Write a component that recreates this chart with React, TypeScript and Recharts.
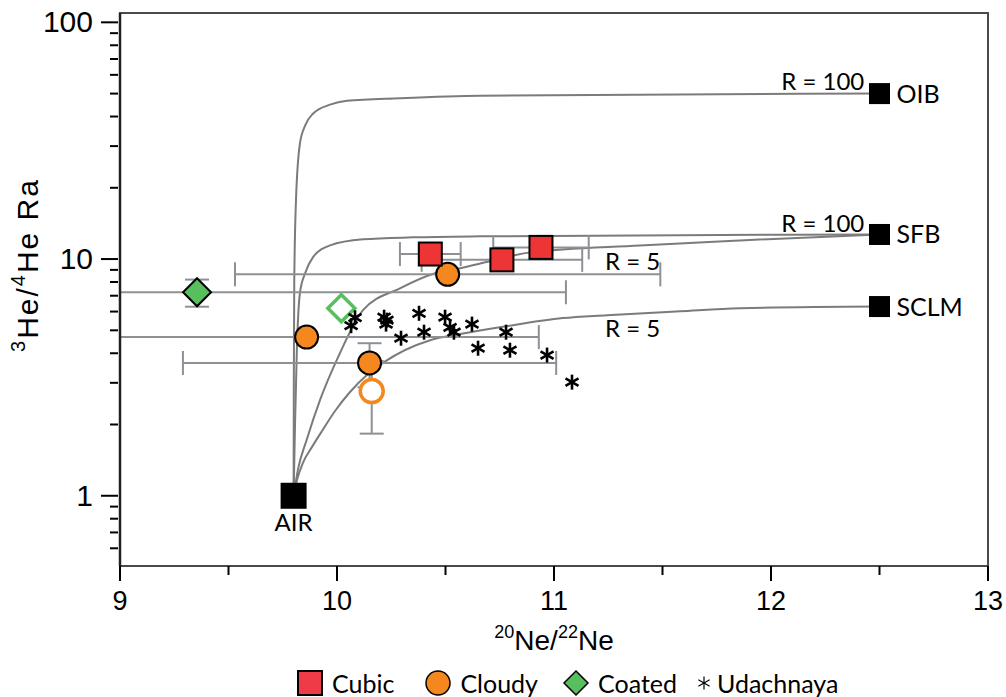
import React from 'react';
import { ComposedChart, XAxis, YAxis, Scatter, Line, ErrorBar, ReferenceArea } from 'recharts';

// ---------- axes ----------
const xDomain = [9, 13];
const yDomain = [0.505, 109.5];
const xTicks = [9, 9.5, 10, 10.5, 11, 11.5, 12, 12.5, 13];
const xMajorTicks = [9, 10, 11, 12, 13];
const xTickLabels = ['9', '10', '11', '12', '13'];
const yTicks = [0.6, 0.7, 0.8, 0.9, 1, 2, 3, 4, 5, 6, 7, 8, 9, 10, 20, 30, 40, 50, 60, 70, 80, 90, 100];
const yMajorTicks = [1, 10, 100];
const yTickLabels = ['1', '10', '100'];

// ---------- end-members ----------
const endmemberNames = ['AIR', 'OIB', 'SFB', 'SCLM'];
const endmemberNe = [9.8, 12.5, 12.5, 12.5];
const endmemberHe = [1, 50, 12.7, 6.3];

// ---------- mixing curves ----------
const oibCurveNe = [9.8, 9.801, 9.803, 9.811, 9.829, 9.853, 9.889, 9.968, 10.046, 10.29, 10.659, 12.5];
const oibCurveHe = [1, 3, 8, 17.7, 30.7, 36.6, 41.1, 44.9, 46.6, 47.8, 49.0, 50];
const sfb100CurveNe = [9.8, 9.807, 9.815, 9.829, 9.853, 9.889, 9.968, 10.12, 10.35, 10.659, 12.5];
const sfb100CurveHe = [1, 2.09, 4.12, 7.17, 8.71, 10.17, 11.42, 12.11, 12.35, 12.47, 12.7];
const sfb5CurveNe = [9.8, 9.82, 9.86, 9.922, 10.005, 10.12, 10.29, 10.452, 10.567, 10.705, 10.889, 11.396, 11.857, 12.5];
const sfb5CurveHe = [1, 1.29, 1.72, 2.54, 3.85, 6.08, 7.52, 8.71, 9.14, 9.78, 10.67, 11.42, 11.99, 12.7];
const sclmCurveNe = [9.8, 9.816, 9.843, 9.885, 9.931, 9.991, 10.06, 10.143, 10.217, 10.429, 10.567, 10.779, 11.041, 11.244, 11.581, 11.857, 12.5];
const sclmCurveHe = [1, 1.168, 1.377, 1.609, 1.879, 2.281, 2.744, 3.267, 3.67, 4.54, 4.82, 5.2, 5.63, 5.79, 6.02, 6.2, 6.3];

// curve labels
const curveLabelText = ['R = 100', 'R = 100', 'R = 5', 'R = 5'];
const curveLabelNe = [12.43, 12.43, 11.235, 11.235];
const curveLabelHe = [51.9, 13.0, 8.96, 4.68];
const curveLabelAnchor = ['end', 'end', 'start', 'start'];

// ---------- samples ----------
const cubicNe = [10.43, 10.76, 10.94];
const cubicHe = [10.5, 9.92, 11.2];
const cubicNeErr = [0.14, 0.37, 0.22];

const cloudyNe = [10.51, 9.86, 10.15];
const cloudyHe = [8.62, 4.68, 3.64];
const cloudyNeErr = [0.98, 1.07, 0.86];
const cloudyHeErrIdx = [2];
const cloudyHeErr = [0.77];

const cloudyOpenNe = [10.16];
const cloudyOpenHe = [2.77];
const cloudyOpenHeErr = [0.94];

const coatedNe = [9.355];
const coatedHe = [7.24];
const coatedNeErr = [1.7];
const coatedHeErr = [0.95];

const coatedOpenNe = [10.02];
const coatedOpenHe = [6.2];

const udachnayaNe = [10.083, 10.065, 10.217, 10.23, 10.226, 10.295, 10.378, 10.401, 10.498, 10.521, 10.539, 10.622, 10.65, 10.779, 10.797, 10.968, 11.083];
const udachnayaHe = [5.65, 5.23, 5.68, 5.52, 5.31, 4.63, 5.9, 4.91, 5.68, 5.15, 4.91, 5.31, 4.2, 4.91, 4.12, 3.93, 3.02];

const legendNames = ['Cubic', 'Cloudy', 'Coated', 'Udachnaya'];

// ---------- styling ----------
const RED = '#ee3535';
const ORANGE = '#f5871f';
const GREEN = '#58bf5e';
const CURVE = '#7b7b7b';
const ERR = '#8d9196';
const FONT_AX = '"Liberation Sans", Arial, Helvetica, sans-serif';
const FONT_TX = 'Lato, "Open Sans", sans-serif';

const pts = (xs: number[], ys: number[]) => xs.map((x, i) => ({ x, y: ys[i] }));
// x error bars are cut at the plot's left edge, as in the figure
const xErr = (x: number, e: number) => [Math.min(e, x - xDomain[0]), e];

const endData = endmemberNe.map((x, i) => ({ x, y: endmemberHe[i], name: endmemberNames[i] }));
const labelData = curveLabelNe.map((x, i) => ({ x, y: curveLabelHe[i], text: curveLabelText[i], anchor: curveLabelAnchor[i] }));
const cubicData = cubicNe.map((x, i) => ({ x, y: cubicHe[i], ex: xErr(x, cubicNeErr[i]) }));
const cloudyData = cloudyNe.map((x, i) => ({ x, y: cloudyHe[i], ex: xErr(x, cloudyNeErr[i]) }));
const cloudyYErrData = cloudyHeErrIdx.map((k, i) => ({ x: cloudyNe[k], y: cloudyHe[k], ey: cloudyHeErr[i] }));
const cloudyOpenData = cloudyOpenNe.map((x, i) => ({ x, y: cloudyOpenHe[i], ey: cloudyOpenHeErr[i] }));
const coatedData = coatedNe.map((x, i) => ({ x, y: coatedHe[i], ex: xErr(x, coatedNeErr[i]), ey: coatedHeErr[i] }));
const coatedOpenData = pts(coatedOpenNe, coatedOpenHe);
const udachnayaData = pts(udachnayaNe, udachnayaHe);

// ---------- shapes ----------
const Empty = () => <g />;

const SquareShape = (p: any) => (
  <rect x={p.cx - 11.5} y={p.cy - 11.5} width={23} height={23} fill={RED} stroke="#000" strokeWidth={2} />
);
const CircleShape = (p: any) => (
  <circle cx={p.cx} cy={p.cy} r={11.5} fill={ORANGE} stroke="#000" strokeWidth={2} />
);
const OpenCircleShape = (p: any) => (
  <circle cx={p.cx} cy={p.cy} r={11.5} fill="#fff" stroke={ORANGE} strokeWidth={3.5} />
);
const diamondPts = (cx: number, cy: number, r: number) => `${cx},${cy - r} ${cx + r},${cy} ${cx},${cy + r} ${cx - r},${cy}`;
const DiamondShape = (p: any) => (
  <polygon points={diamondPts(p.cx, p.cy, 14)} fill={GREEN} stroke="#000" strokeWidth={2} />
);
const OpenDiamondShape = (p: any) => (
  <polygon points={diamondPts(p.cx, p.cy, 13.5)} fill="#fff" stroke={GREEN} strokeWidth={3.5} />
);
const Asterisk = ({ cx, cy, r = 7.5, sw = 2.6 }: any) => (
  <g stroke="#000" strokeWidth={sw}>
    <line x1={cx} y1={cy - r} x2={cx} y2={cy + r} />
    <line x1={cx - r * 0.866} y1={cy - r * 0.5} x2={cx + r * 0.866} y2={cy + r * 0.5} />
    <line x1={cx - r * 0.866} y1={cy + r * 0.5} x2={cx + r * 0.866} y2={cy - r * 0.5} />
  </g>
);
const AsteriskShape = (p: any) => <Asterisk cx={p.cx} cy={p.cy} />;

const EndShape = (p: any) => {
  const { cx, cy, payload } = p;
  const isAir = payload.name === 'AIR';
  const s = isAir ? 26 : 21;
  return (
    <g>
      <rect x={cx - s / 2} y={cy - s / 2} width={s} height={s} fill="#000" />
      {isAir ? (
        <text x={cx} y={cy + 35} textAnchor="middle" fontFamily={FONT_TX} fontSize={24} fill="#000">{payload.name}</text>
      ) : (
        <text x={cx + 17} y={cy + 9} textAnchor="start" fontFamily={FONT_TX} fontSize={25} fill="#000">{payload.name}</text>
      )}
    </g>
  );
};

const CurveLabelShape = (p: any) => (
  <text x={p.cx} y={p.cy} textAnchor={p.payload.anchor} fontFamily={FONT_TX} fontSize={24} fill="#000">
    {p.payload.text}
  </text>
);

// ---------- ticks ----------
const XTick = (props: any) => {
  const { x, y, payload } = props;
  const v = payload.value;
  const k = xMajorTicks.indexOf(v);
  const major = k >= 0;
  return (
    <g>
      <line x1={x} x2={x} y1={y} y2={y + (major ? 15 : 9)} stroke="#000" strokeWidth={2} />
      {major && (
        <text x={x} y={y + 44} textAnchor="middle" fontFamily={FONT_AX} fontSize={27} fill="#000">{xTickLabels[k]}</text>
      )}
    </g>
  );
};

const YTick = (props: any) => {
  const { x, y, payload } = props;
  const v = payload.value;
  const k = yMajorTicks.indexOf(v);
  const major = k >= 0;
  return (
    <g>
      <line x1={x - (major ? 19 : 10)} x2={x - 2} y1={y} y2={y} stroke="#000" strokeWidth={2} />
      {major && (
        <text x={x - 27} y={y + 10} textAnchor="end" fontFamily={FONT_AX} fontSize={30} fill="#000">{yTickLabels[k]}</text>
      )}
    </g>
  );
};

const XLabel = (props: any) => {
  const vb = props.viewBox || {};
  const cx = vb.x + vb.width / 2;
  const cy = vb.y + 84;
  return (
    <text x={cx} y={cy} textAnchor="middle" fontFamily={FONT_AX} fontSize={28} fill="#000">
      <tspan fontSize={18} dy={-12}>20</tspan>
      <tspan dy={12}>Ne/</tspan>
      <tspan fontSize={18} dy={-12}>22</tspan>
      <tspan dy={12}>Ne</tspan>
    </text>
  );
};

const YLabel = (props: any) => {
  const vb = props.viewBox || {};
  const cx = vb.x + 38;
  const cy = vb.y + 252;
  return (
    <text x={cx} y={cy} transform={`rotate(-90 ${cx} ${cy})`} textAnchor="middle" fontFamily={FONT_AX} fontSize={30} letterSpacing={2} fill="#000">
      <tspan fontSize={20} dy={-13}>3</tspan>
      <tspan dy={13}>He/</tspan>
      <tspan fontSize={20} dy={-13}>4</tspan>
      <tspan dy={13}>He Ra</tspan>
    </text>
  );
};

const LegendIcon = ({ i }: { i: number }) => {
  if (i === 0) return <svg width={28} height={28}><rect x={2} y={2} width={24} height={24} fill="#ef3b47" stroke="#000" strokeWidth={2} /></svg>;
  if (i === 1) return <svg width={28} height={28}><circle cx={14} cy={14} r={12} fill={ORANGE} stroke="#000" strokeWidth={1.5} /></svg>;
  if (i === 2) return <svg width={28} height={28}><polygon points={diamondPts(14, 14, 12)} fill={GREEN} stroke="#000" strokeWidth={1.5} /></svg>;
  return <svg width={18} height={28}><Asterisk cx={9} cy={14} r={6.5} sw={1.2} /></svg>;
};

export default function App() {
  const lineProps = { type: 'monotone' as const, dataKey: 'y', stroke: CURVE, strokeWidth: 2, dot: false, activeDot: false, isAnimationActive: false, legendType: 'none' as const };
  return (
    <div style={{ position: 'absolute', left: 0, top: 0, width: 1006, height: 697, background: '#fff' }}>
      <ComposedChart width={1006} height={697} margin={{ top: 13, right: 18, bottom: 0, left: 0 }}>
        <XAxis
          type="number"
          dataKey="x"
          domain={xDomain}
          ticks={xTicks}
          interval={0}
          allowDataOverflow
          height={131}
          tickSize={0}
          tickMargin={0}
          tickLine={false}
          tick={<XTick />}
          axisLine={{ stroke: '#4a4a4a', strokeWidth: 2 }}
          label={{ content: <XLabel /> }}
        />
        <YAxis
          type="number"
          dataKey="y"
          scale="log"
          domain={yDomain}
          ticks={yTicks}
          interval={0}
          allowDataOverflow
          width={120}
          tickSize={0}
          tickMargin={0}
          tickLine={false}
          tick={<YTick />}
          axisLine={{ stroke: '#222', strokeWidth: 2.5 }}
          label={{ content: <YLabel /> }}
        />
        <ReferenceArea x1={xDomain[0]} x2={xDomain[1]} y1={yDomain[0]} y2={yDomain[1]} fill="none" stroke="#4a4a4a" strokeWidth={2} ifOverflow="visible" />

        <Line {...lineProps} data={pts(oibCurveNe, oibCurveHe)} />
        <Line {...lineProps} data={pts(sfb100CurveNe, sfb100CurveHe)} />
        <Line {...lineProps} data={pts(sfb5CurveNe, sfb5CurveHe)} />
        <Line {...lineProps} data={pts(sclmCurveNe, sclmCurveHe)} />

        <Scatter data={endData} dataKey="y" shape={EndShape} isAnimationActive={false} legendType="none" />
        <Scatter data={labelData} dataKey="y" shape={CurveLabelShape} isAnimationActive={false} legendType="none" />

        <Scatter data={coatedData} dataKey="y" shape={DiamondShape} isAnimationActive={false} legendType="none">
          <ErrorBar dataKey="ex" direction="x" width={12} stroke={ERR} strokeWidth={2} />
          <ErrorBar dataKey="ey" direction="y" width={12} stroke={ERR} strokeWidth={2} />
        </Scatter>
        <Scatter data={cloudyYErrData} dataKey="y" shape={Empty} isAnimationActive={false} legendType="none">
          <ErrorBar dataKey="ey" direction="y" width={12} stroke={ERR} strokeWidth={2} />
        </Scatter>
        <Scatter data={cloudyData} dataKey="y" shape={CircleShape} isAnimationActive={false} legendType="none">
          <ErrorBar dataKey="ex" direction="x" width={12} stroke={ERR} strokeWidth={2} />
        </Scatter>
        <Scatter data={cubicData} dataKey="y" shape={SquareShape} isAnimationActive={false} legendType="none">
          <ErrorBar dataKey="ex" direction="x" width={12} stroke={ERR} strokeWidth={2} />
        </Scatter>
        <Scatter data={cloudyOpenData} dataKey="y" shape={OpenCircleShape} isAnimationActive={false} legendType="none">
          <ErrorBar dataKey="ey" direction="y" width={12} stroke={ERR} strokeWidth={2} />
        </Scatter>
        <Scatter data={coatedOpenData} dataKey="y" shape={OpenDiamondShape} isAnimationActive={false} legendType="none" />
        <Scatter data={udachnayaData} dataKey="y" shape={AsteriskShape} isAnimationActive={false} legendType="none" />
      </ComposedChart>

      <div style={{ position: 'absolute', left: 296, top: 669, height: 28, display: 'flex', alignItems: 'center', fontFamily: FONT_TX, fontSize: 25, color: '#000', whiteSpace: 'nowrap' }}>
        {legendNames.map((n, i) => (
          <div key={n} style={{ display: 'flex', alignItems: 'center', marginRight: i === 0 ? 30 : i === 1 ? 24 : 18 }}>
            <LegendIcon i={i} />
            <span style={{ marginLeft: i === 3 ? 4 : 8, lineHeight: '28px' }}>{n}</span>
          </div>
        ))}
      </div>
    </div>
  );
}
